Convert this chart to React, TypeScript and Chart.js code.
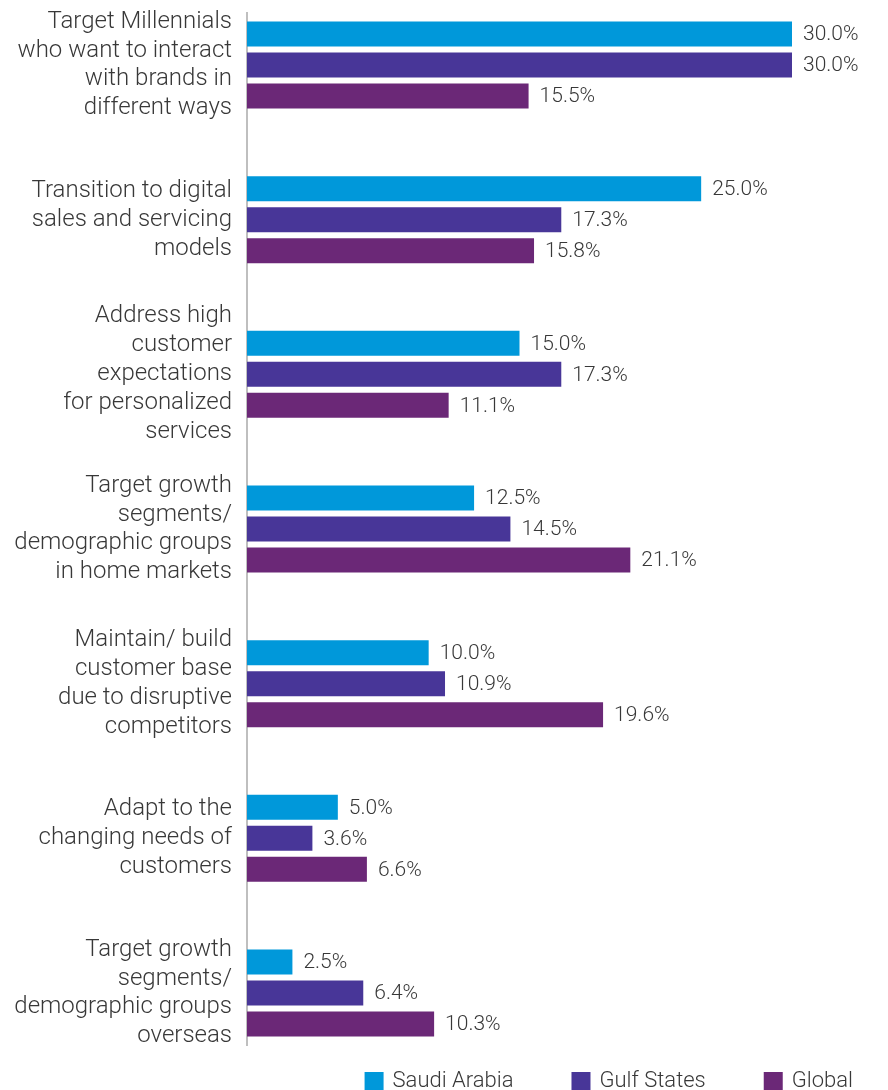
import React, { useEffect, useRef } from "react";
import { Chart, registerables } from "chart.js";

Chart.register(...registerables);

const categories: string[][] = [
  ["Target Millennials", "who want to interact", "with brands in", "different ways"],
  ["Transition to digital", "sales and servicing", "models"],
  ["Address high", "customer", "expectations", "for personalized", "services"],
  ["Target growth", "segments/", "demographic groups", "in home markets"],
  ["Maintain/ build", "customer base", "due to disruptive", "competitors"],
  ["Adapt to the", "changing needs of", "customers"],
  ["Target growth", "segments/", "demographic groups", "overseas"],
];

const saudiArabia = [30.0, 25.0, 15.0, 12.5, 10.0, 5.0, 2.5];
const gulfStates = [30.0, 17.3, 17.3, 14.5, 10.9, 3.6, 6.4];
const globalValues = [15.5, 15.8, 11.1, 21.1, 19.6, 6.6, 10.3];

const seriesNames = ["Saudi Arabia", "Gulf States", "Global"];
const seriesColors = ["#0098DA", "#483698", "#6B2877"];

const FONT = "Roboto, 'Liberation Sans', sans-serif";
const TEXT_COLOR = "#383838";

const axisLinePlugin = {
  id: "axisLine",
  beforeDatasetsDraw(chart: any) {
    const { ctx, chartArea } = chart;
    ctx.save();
    ctx.strokeStyle = "#bfbfbf";
    ctx.lineWidth = 2;
    ctx.beginPath();
    ctx.moveTo(chartArea.left, 4);
    ctx.lineTo(chartArea.left, 1038);
    ctx.stroke();
    ctx.restore();
  },
};

const valueLabelPlugin = {
  id: "valueLabels",
  afterDatasetsDraw(chart: any) {
    const { ctx } = chart;
    ctx.save();
    ctx.font = `300 21px ${FONT}`;
    ctx.fillStyle = TEXT_COLOR;
    ctx.textAlign = "left";
    ctx.textBaseline = "middle";
    chart.data.datasets.forEach((ds: any, di: number) => {
      const meta = chart.getDatasetMeta(di);
      meta.data.forEach((el: any, i: number) => {
        const v = ds.data[i] as number;
        ctx.fillText(v.toFixed(1) + "%", el.x + 11, el.y + 1);
      });
    });
    ctx.restore();
  },
};

const legendPlugin = {
  id: "customLegend",
  afterDraw(chart: any) {
    const { ctx } = chart;
    ctx.save();
    ctx.font = `300 22px ${FONT}`;
    ctx.textBaseline = "middle";
    const boxW = 19;
    const boxH = 18;
    const textGap = 9;
    const itemGap = 58;
    const rightEnd = 845;
    const widths = seriesNames.map((n) => boxW + textGap + ctx.measureText(n).width);
    let x = rightEnd - widths.reduce((a, b) => a + b, 0) - itemGap * (widths.length - 1);
    const yTop = 1064;
    seriesNames.forEach((name, i) => {
      ctx.fillStyle = seriesColors[i];
      ctx.fillRect(x, yTop, boxW, boxH);
      ctx.fillStyle = TEXT_COLOR;
      ctx.textAlign = "left";
      ctx.fillText(name, x + boxW + textGap, yTop + boxH / 2);
      x += widths[i] + itemGap;
    });
    ctx.restore();
  },
};

export default function App() {
  const canvasRef = useRef<HTMLCanvasElement | null>(null);

  useEffect(() => {
    if (!canvasRef.current) return;
    const chart = new Chart(canvasRef.current, {
      type: "bar",
      data: {
        labels: categories,
        datasets: [saudiArabia, gulfStates, globalValues].map((d, i) => ({
          label: seriesNames[i],
          data: d,
          backgroundColor: seriesColors[i],
          borderWidth: 0,
          categoryPercentage: 0.601,
          barPercentage: 0.806,
          clip: false as any,
        })),
      },
      options: {
        indexAxis: "y",
        animation: false,
        responsive: false,
        layout: { padding: { left: 0, right: 88, top: 57, bottom: 97 } },
        plugins: {
          legend: { display: false },
          tooltip: { enabled: false },
        },
        scales: {
          x: {
            display: false,
            min: 0,
            max: 30,
          },
          y: {
            offset: false,
            grid: { display: false, drawTicks: false },
            border: { display: false },
            afterFit(scale: any) {
              scale.width = 239;
              scale.paddingTop = 0;
              scale.paddingBottom = 0;
            },
            ticks: {
              autoSkip: false,
              padding: 15,
              color: TEXT_COLOR,
              font: { family: FONT, size: 24, weight: 300 as any, lineHeight: 1.208 },
            },
          },
        },
      },
      plugins: [axisLinePlugin, valueLabelPlugin, legendPlugin],
    });
    return () => chart.destroy();
  }, []);

  return (
    <div style={{ width: 872, height: 1082 }}>
      <canvas ref={canvasRef} width={872} height={1082} style={{ width: 872, height: 1082 }} />
    </div>
  );
}
